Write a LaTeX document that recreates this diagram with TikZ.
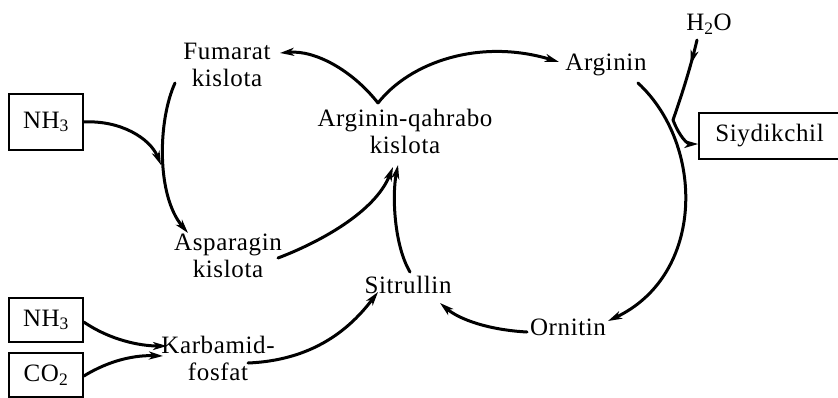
\documentclass[tikz,border=0pt]{standalone}
\usepackage{fontspec}
\setmainfont{Liberation Serif}[LetterSpace=2.5]
\usetikzlibrary{arrows.meta,decorations.markings,calc}
\begin{document}
\begin{tikzpicture}[x=1pt,y=-1pt,
  lbl/.style={inner sep=0pt,align=center,font=\fontsize{25}{27}\selectfont},
  boxn/.style={draw,line width=1.6pt,inner sep=0pt,align=center,font=\fontsize{25}{27}\selectfont},
  conn/.style={line width=3pt,line cap=round},
  arr/.style={conn,-{Stealth[length=14pt,width=8pt,inset=4pt]}},
  midarr/.style={conn,postaction={decorate},decoration={markings,mark=at position 0.3 with {\arrow{Stealth[length=14pt,width=8pt,inset=4pt]}}}}
]
\useasboundingbox (0,0) rectangle (838,397);
% nodes
\node[lbl] (fum) at (227,65) {Fumarat\\kislota};
\node[lbl] (aq) at (405,131) {Arginin-qahrabo\\kislota};
\node[lbl] (arg) at (606,65) {Arginin};
\node[lbl] (h2o) at (709,24) {H\textsubscript{2}O};
\node[boxn,minimum width=141pt,minimum height=46pt] (sid) at (769.5,136) {Siydikchil};
\node[lbl] (asp) at (228,256) {Asparagin\\kislota};
\node[lbl] (sit) at (408,285) {Sitrullin};
\node[lbl] (orn) at (568,327) {Ornitin};
\node[lbl] (karb) at (218,358) {Karbamid-\\fosfat};
\node[boxn,minimum width=74pt,minimum height=56pt] (nh3a) at (46,122) {NH\textsubscript{3}};
\node[boxn,minimum width=74pt,minimum height=44pt] (nh3b) at (46,320) {NH\textsubscript{3}};
\node[boxn,minimum width=74pt,minimum height=44pt] (co2) at (46,375) {CO\textsubscript{2}};
% junction coordinates
\coordinate (cusp) at (378,103);
\coordinate (jL) at (161,165);
\coordinate (jR) at (673,120);
% connectors
\draw[arr] (cusp) .. controls (352,70) and (315,50) .. ([shift={(53,-12)}]fum.center);
\draw[arr] (cusp) .. controls (410,62) and (480,38) .. ([shift={(-47,-3)}]arg.center);
\draw[arr] ([shift={(-52,18)}]fum.center) .. controls (158,120) and (156,195) .. ([shift={(-40,-23)}]asp.center);
\draw[arr] (nh3a.east) .. controls (120,120) and (150,138) .. (jL);
\draw[arr] ([shift={(50,2)}]asp.center) .. controls (320,242) and (375,212) .. ([shift={(-12,36)}]aq.center);
\draw[arr] ([shift={(2,-13)}]sit.center) .. controls (394,245) and (392,195) .. ([shift={(-7,34)}]aq.center);
\draw[arr] ([shift={(32,18)}]arg.center) .. controls (705,145) and (705,275) .. ([shift={(40,-6)}]orn.center);
\draw[midarr] ([shift={(-12,16)}]h2o.center) .. controls (690,70) and (680,100) .. (jR);
\draw[arr] (jR) .. controls (680,138) and (688,144) .. ([shift={(0,8)}]sid.west);
\draw[arr] ([shift={(-41,5)}]orn.center) .. controls (490,330) and (460,320) .. ([shift={(32,18)}]sit.center);
\draw[arr] ([shift={(0,2)}]nh3b.east) .. controls (110,340) and (140,346) .. ([shift={(-51,-12)}]karb.center);
\draw[arr] ([shift={(0,1)}]co2.east) .. controls (110,360) and (135,355) .. ([shift={(-55,-2)}]karb.center);
\draw[arr] ([shift={(30,5)}]karb.center) .. controls (320,360) and (355,322) .. ([shift={(-30,7)}]sit.center);
\end{tikzpicture}
\end{document}
